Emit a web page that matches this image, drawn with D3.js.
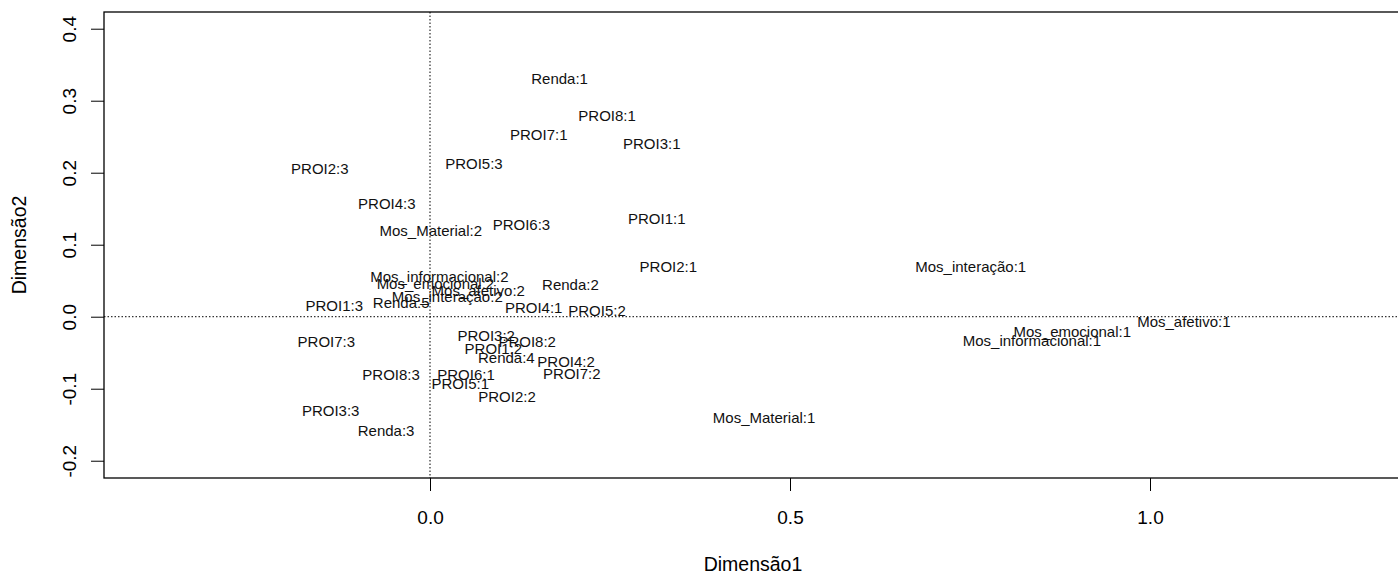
<!DOCTYPE html>
<html>
<head>
<meta charset="utf-8">
<script src="https://cdn.jsdelivr.net/npm/d3@7"></script>
<style>
  body { margin: 0; background: #fff; }
  text { font-family: "Liberation Sans", Arial, sans-serif; }
</style>
</head>
<body>
<script>
// correspondence analysis map, category labels only

let w = 1398;
let h = 575;

let categories = [
    'Renda:1', 'PROI8:1', 'PROI7:1', 'PROI3:1', 'PROI5:3', 'PROI6:3', 'PROI1:1', 'PROI2:1',
    'Renda:2', 'PROI2:3', 'PROI4:3', 'Mos_Material:2', 'Mos_interação:1', 'Mos_afetivo:1',
    'Mos_emocional:1', 'Mos_informacional:1', 'Mos_Material:1', 'Mos_informacional:2',
    'Mos_emocional:2', 'Mos_afetivo:2', 'Mos_interação:2', 'Renda:5', 'PROI1:3', 'PROI4:1',
    'PROI5:2', 'PROI7:3', 'PROI3:2', 'PROI8:2', 'PROI1:2', 'Renda:4', 'PROI4:2', 'PROI7:2',
    'PROI8:3', 'PROI6:1', 'PROI5:1', 'PROI2:2', 'PROI3:3', 'Renda:3'
];

let dim1 = [
    0.180, 0.246, 0.151, 0.308, 0.061, 0.127, 0.315, 0.331,
    0.195, -0.153, -0.060, 0.001, 0.751, 1.047,
    0.892, 0.836, 0.464, 0.013,
    0.0075, 0.067, 0.024, -0.040, -0.133, 0.144,
    0.232, -0.144, 0.078, 0.135, 0.088, 0.106, 0.189, 0.197,
    -0.054, 0.050, 0.042, 0.107, -0.138, -0.061
];

let dim2 = [
    0.330, 0.279, 0.253, 0.240, 0.212, 0.128, 0.136, 0.069,
    0.044, 0.206, 0.157, 0.119, 0.070, -0.007,
    -0.021, -0.033, -0.140, 0.056,
    0.046, 0.036, 0.028, 0.020, 0.015, 0.012,
    0.008, -0.035, -0.027, -0.035, -0.044, -0.057, -0.063, -0.079,
    -0.081, -0.081, -0.093, -0.111, -0.131, -0.158
];

let xTicks = [0.0, 0.5, 1.0];
let yTicks = [-0.2, -0.1, 0.0, 0.1, 0.2, 0.3, 0.4];

let points = categories.map((c, i) => ({ label: c, d1: dim1[i], d2: dim2[i] }));

let pLeft = 104, pTop = 12, pRight = 1402, pBottom = 478;

let x = d3.scaleLinear().domain([-0.4528, 1.35]).range([pLeft, pRight]);
let y = d3.scaleLinear().domain([-0.224, 0.4232]).range([pBottom, pTop]);

// R style labels: plain hyphen for negatives
let fmt = d => d.toFixed(1);

let svg = d3.select('body').append('svg')
    .attr('width', w)
    .attr('height', h);

// reference lines at zero
svg.append('line')
    .attr('x1', x(0)).attr('x2', x(0))
    .attr('y1', pTop).attr('y2', pBottom)
    .attr('stroke', '#000')
    .attr('stroke-dasharray', '1.5,2');

svg.append('line')
    .attr('x1', pLeft).attr('x2', pRight)
    .attr('y1', y(0)).attr('y2', y(0))
    .attr('stroke', '#000')
    .attr('stroke-dasharray', '1.5,2');

// axes
let xAxis = svg.append('g')
    .attr('transform', `translate(0,${pBottom})`)
    .call(d3.axisBottom(x).tickValues(xTicks).tickFormat(fmt).tickSize(13).tickSizeOuter(0));

xAxis.selectAll('text')
    .attr('y', 45.5)
    .attr('dy', 0)
    .attr('font-size', '19px')
    .attr('font-family', '"Liberation Sans", Arial, sans-serif')
    .attr('fill', '#000');

let yAxis = svg.append('g')
    .attr('transform', `translate(${pLeft},0)`)
    .call(d3.axisLeft(y).tickValues(yTicks).tickFormat(fmt).tickSize(13).tickSizeOuter(0));

yAxis.selectAll('text')
    .attr('transform', 'rotate(-90)')
    .attr('x', 0)
    .attr('y', -28)
    .attr('dy', 0)
    .attr('text-anchor', 'middle')
    .attr('font-size', '19px')
    .attr('font-family', '"Liberation Sans", Arial, sans-serif')
    .attr('fill', '#000');

svg.selectAll('.domain').remove();

// box
svg.append('rect')
    .attr('x', pLeft)
    .attr('y', pTop)
    .attr('width', pRight - pLeft)
    .attr('height', pBottom - pTop)
    .attr('fill', 'none')
    .attr('stroke', '#000')
    .attr('stroke-width', 1.3);

// axis titles
svg.append('text')
    .text('Dimensão1')
    .attr('x', (pLeft + pRight) / 2)
    .attr('y', 571)
    .attr('text-anchor', 'middle')
    .attr('font-size', '19.5px');

svg.append('text')
    .text('Dimensão2')
    .attr('transform', `translate(26,${(pTop + pBottom) / 2}) rotate(-90)`)
    .attr('text-anchor', 'middle')
    .attr('font-size', '19.5px');

// category labels
svg.selectAll('text.lab')
    .data(points)
    .enter()
    .append('text')
    .attr('class', 'lab')
    .text(d => d.label)
    .attr('x', d => x(d.d1))
    .attr('y', d => y(d.d2))
    .attr('dy', '0.35em')
    .attr('text-anchor', 'middle')
    .attr('font-size', '15px')
    .attr('fill', '#111');
</script>
</body>
</html>
